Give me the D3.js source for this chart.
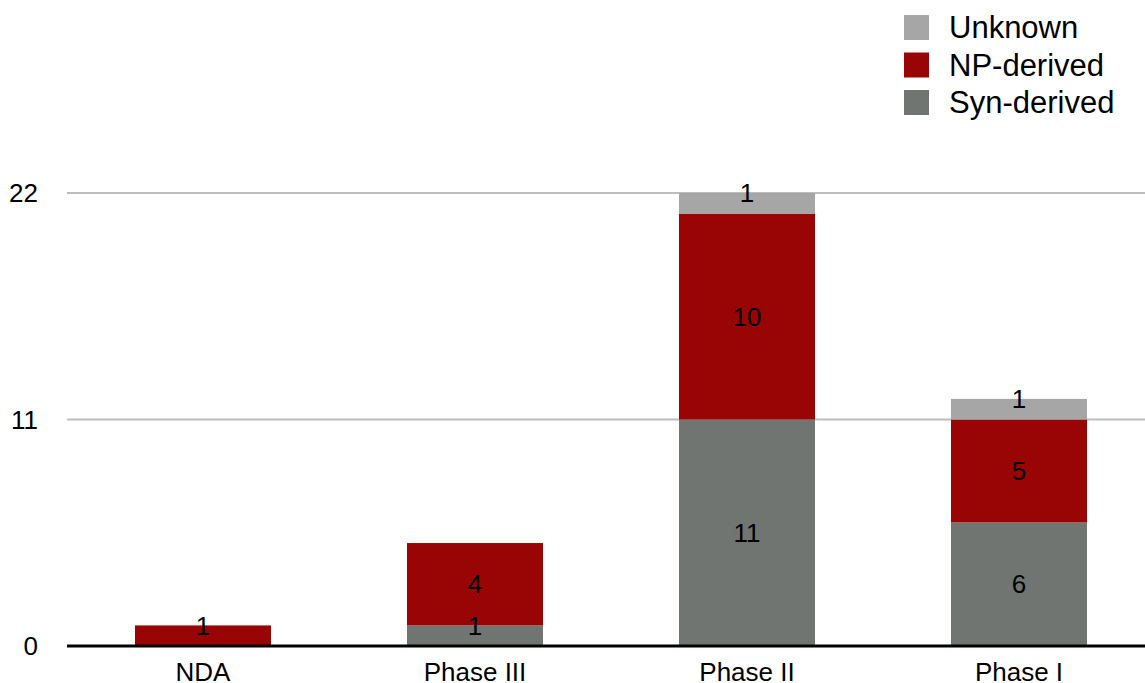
<!DOCTYPE html>
<html>
<head>
<meta charset="utf-8">
<script src="https://cdn.jsdelivr.net/npm/d3@7"></script>
<style>
  html, body { margin: 0; padding: 0; background: #fff; }
  svg { display: block; font-family: "Liberation Sans", Arial, sans-serif; }
</style>
</head>
<body>
<div id="chart"></div>
<script>
const categories = ["NDA", "Phase III", "Phase II", "Phase I"]
const seriesNames = ["Syn-derived", "NP-derived", "Unknown"]
const synDerived = [0, 1, 11, 6]
const npDerived = [1, 4, 10, 5]
const unknown = [0, 0, 1, 1]
const yTicks = [0, 11, 22]

const colors = {"Syn-derived": "#707572", "NP-derived": "#990505", "Unknown": "#a6a6a6"}

const width = 1145
const height = 683
const margin = {top: 193, right: 0, bottom: 37, left: 67}

const rows = categories.map((c, i) => ({
  cat: c,
  "Syn-derived": synDerived[i],
  "NP-derived": npDerived[i],
  "Unknown": unknown[i]
}))

const stack = d3.stack().keys(seriesNames)(rows)

const x = d3.scaleBand()
  .domain(categories)
  .range([margin.left, margin.left + 1088])
  .paddingInner(0.5)
  .paddingOuter(0.25)

const y = d3.scaleLinear()
  .domain([0, 22])
  .range([height - margin.bottom, margin.top])

const svg = d3.select("#chart").append("svg")
  .attr("width", width)
  .attr("height", height)

// gridlines
svg.append("g")
  .selectAll("line")
  .data(yTicks.filter(t => t > 0))
  .join("line")
    .attr("x1", margin.left)
    .attr("x2", width)
    .attr("y1", d => y(d))
    .attr("y2", d => y(d))
    .attr("stroke", "#bdbdbd")
    .attr("stroke-width", 2)

// y tick labels
svg.append("g")
  .attr("font-size", 26)
  .attr("text-anchor", "end")
  .selectAll("text")
  .data(yTicks)
  .join("text")
    .attr("x", 38)
    .attr("y", d => y(d))
    .attr("dy", "0.35em")
    .text(d => d)

// bars
const layer = svg.append("g")
  .selectAll("g")
  .data(stack)
  .join("g")
    .attr("fill", d => colors[d.key])

layer.selectAll("rect")
  .data(d => d.filter(s => s[1] - s[0] > 0))
  .join("rect")
    .attr("x", d => x(d.data.cat))
    .attr("width", x.bandwidth())
    .attr("y", d => y(d[1]))
    .attr("height", d => y(d[0]) - y(d[1]))

// value labels
const labels = []
stack.forEach(s => s.forEach(d => {
  const v = d[1] - d[0]
  if (v > 0) labels.push({cat: d.data.cat, v: v, y0: d[0], y1: d[1]})
}))

svg.append("g")
  .attr("font-size", 26)
  .attr("text-anchor", "middle")
  .attr("fill", "#000")
  .selectAll("text")
  .data(labels)
  .join("text")
    .attr("x", d => x(d.cat) + x.bandwidth() / 2)
    .attr("y", d => {
      const h = y(d.y0) - y(d.y1)
      return h < 30 ? y(d.y1) : (y(d.y0) + y(d.y1)) / 2
    })
    .attr("dy", "0.35em")
    .text(d => d.v)

// baseline
svg.append("line")
  .attr("x1", margin.left)
  .attr("x2", width)
  .attr("y1", y(0))
  .attr("y2", y(0))
  .attr("stroke", "#000")
  .attr("stroke-width", 3)

// category labels
svg.append("g")
  .attr("font-size", 26)
  .attr("text-anchor", "middle")
  .selectAll("text")
  .data(categories)
  .join("text")
    .attr("x", d => x(d) + x.bandwidth() / 2)
    .attr("y", 681)
    .text(d => d)

// legend
const legendItems = seriesNames.slice().reverse()
const legend = svg.append("g")
  .selectAll("g")
  .data(legendItems)
  .join("g")
    .attr("transform", (d, i) => `translate(904,${15 + i * 37.5})`)

legend.append("rect")
  .attr("width", 25)
  .attr("height", 25)
  .attr("fill", d => colors[d])

legend.append("text")
  .attr("x", 45)
  .attr("y", 12.5)
  .attr("dy", "0.35em")
  .attr("font-size", 31)
  .text(d => d)
</script>
</body>
</html>
